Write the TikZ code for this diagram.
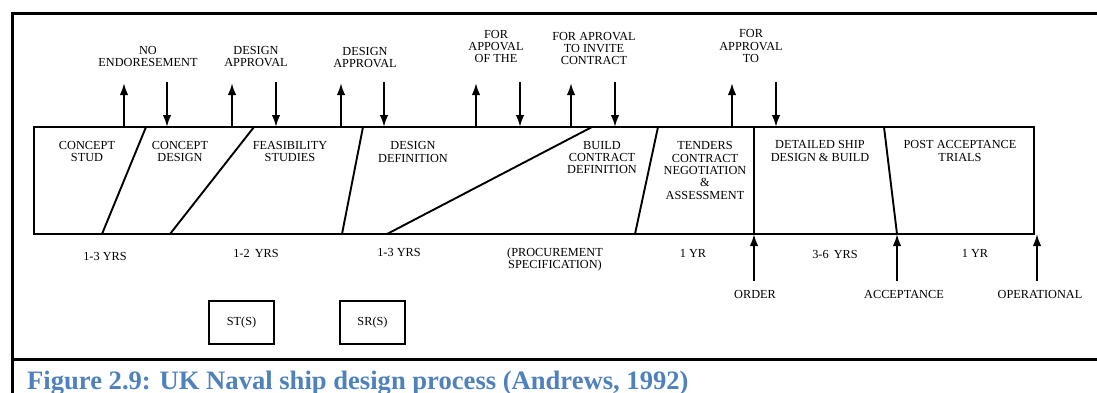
\documentclass[tikz,border=0pt]{standalone}
\usepackage{fontspec}
\setmainfont{Liberation Serif}
\usepackage{xcolor}
\usetikzlibrary{calc, arrows.meta, positioning}
\definecolor{capblue}{HTML}{4F81BD}

\begin{document}
\begin{tikzpicture}[x=1pt, y=-1pt, >={Latex[length=12pt,width=8.5pt]}]
		\tikzstyle{lbl} = [draw=none, align=center, inner sep=0pt, font=\fontsize{12.3}{12.4}\selectfont]
		\tikzstyle{pageframe} = [line width=3pt]
		\tikzstyle{stage} = [line width=1.9pt]
		\tikzstyle{flag} = [line width=2pt, ->]
		\tikzstyle{doc} = [draw, line width=1.9pt, minimum width=65pt, minimum height=43pt, inner sep=0pt, font=\fontsize{12.3}{12.4}\selectfont]
		
		\useasboundingbox (0,0) rectangle (1097,392);
		
		% frame and caption
		\draw[pageframe] (1100,13) -- (12,13) -- (12,395);
		\draw[pageframe] (12,359) -- (1100,359);
		\node[anchor=base west, inner sep=0pt, text=capblue, font=\fontsize{26.6}{28}\selectfont\bfseries] at (27,389) (cap) {Figure 2.9: UK Naval ship design process (Andrews, 1992)};
		
		% process bar
		\coordinate (tl) at (34,127);
		\coordinate (br) at (1034,234);
		\draw[stage] (tl) rectangle (br);
		\foreach \t/\b in {146/102, 254/170, 363/342, 592/387, 658/635, 754/754, 884/897}
			\draw[stage] (\t,127) -- (\b,234);
		
		\node[lbl] at (87,151.5) 	(cstud) {CONCEPT\\STUD};
		\node[lbl] at (180,151.5) 	(cdes) 	{CONCEPT\\DESIGN};
		\node[lbl] at (290,151.5) 	(feas) 	{FEASIBILITY\\STUDIES};
		\node[lbl] at (413,152) 	(ddef) 	{DESIGN\\DEFINITION};
		\node[lbl] at (602,157.5) 	(bcd) 	{BUILD\\CONTRACT\\DEFINITION};
		\node[lbl] at (705,170.5) 	(tend) 	{TENDERS\\CONTRACT\\NEGOTIATION\\\&\\ASSESSMENT};
		\node[lbl] at (820,151) 	(dsdb) 	{DETAILED SHIP\\DESIGN \& BUILD};
		\node[lbl] at (960,151) 	(pat) 	{POST ACCEPTANCE\\TRIALS};
		
		% approvals above the bar
		\node[lbl] at (148,56.5) 	(noend) {NO\\ENDORESEMENT};
		\node[lbl] at (256,56.5) 	(dapp) 	{DESIGN\\APPROVAL};
		\node[lbl] at (365,57.5) 	(dappb) {DESIGN\\APPROVAL};
		\node[lbl] at (496,46.5) 	(fapp) 	{FOR\\APPOVAL\\OF THE};
		\node[lbl] at (594,48.5) 	(finv) 	{FOR APROVAL\\TO INVITE\\CONTRACT};
		\node[lbl] at (751,46) 		(fto) 	{FOR\\APPROVAL\\TO};
		
		\foreach \x [count=\i] in {124, 232, 341, 476, 571, 732} {
			\coordinate (up\i) at (\x,127);
			\coordinate (upt\i) at (\x,83);
			\draw[flag] (up\i) -- (upt\i);
		}
		\foreach \x [count=\i] in {167, 276, 384, 520, 615, 776} {
			\coordinate (dn\i) at (\x,127);
			\coordinate (dnt\i) at (\x,82);
			\draw[flag] (dnt\i) -- (dn\i);
		}
		
		% durations
		\node[lbl] at (105,256) 	(d1) 	{1-3 YRS};
		\node[lbl] at (256,253) 	(d2) 	{1-2 \,YRS};
		\node[lbl] at (399,252) 	(d3) 	{1-3 YRS};
		\node[lbl] at (555,259.5) 	(proc) 	{(PROCUREMENT\\SPECIFICATION)};
		\node[lbl] at (693,253) 	(d4) 	{1 YR};
		\node[lbl] at (835,254) 	(d5) 	{3-6 \,YRS};
		\node[lbl] at (975,253) 	(d6) 	{1 YR};
		
		% events below the bar
		\node[lbl] at (755,294) 	(order) {ORDER};
		\node[lbl] at (904,294) 	(accept) {ACCEPTANCE};
		\node[lbl] at (1040,294) 	(oper) 	{OPERATIONAL};
		\coordinate (ordb) at (754,234);
		\coordinate (accb) at (897,234);
		\coordinate (opb) at (1037,234);
		\path[flag]
		(754,281)	edge	(ordb)
		(897,281)	edge	(accb)
		(1037,281)	edge	(opb);
		
		% documents
		\node[doc] at (241.5,322.5) 	(sts) 	{ST(S)};
		\node[doc] at (372.5,322.5) 	(srs) 	{SR(S)};
\end{tikzpicture}
\end{document}
